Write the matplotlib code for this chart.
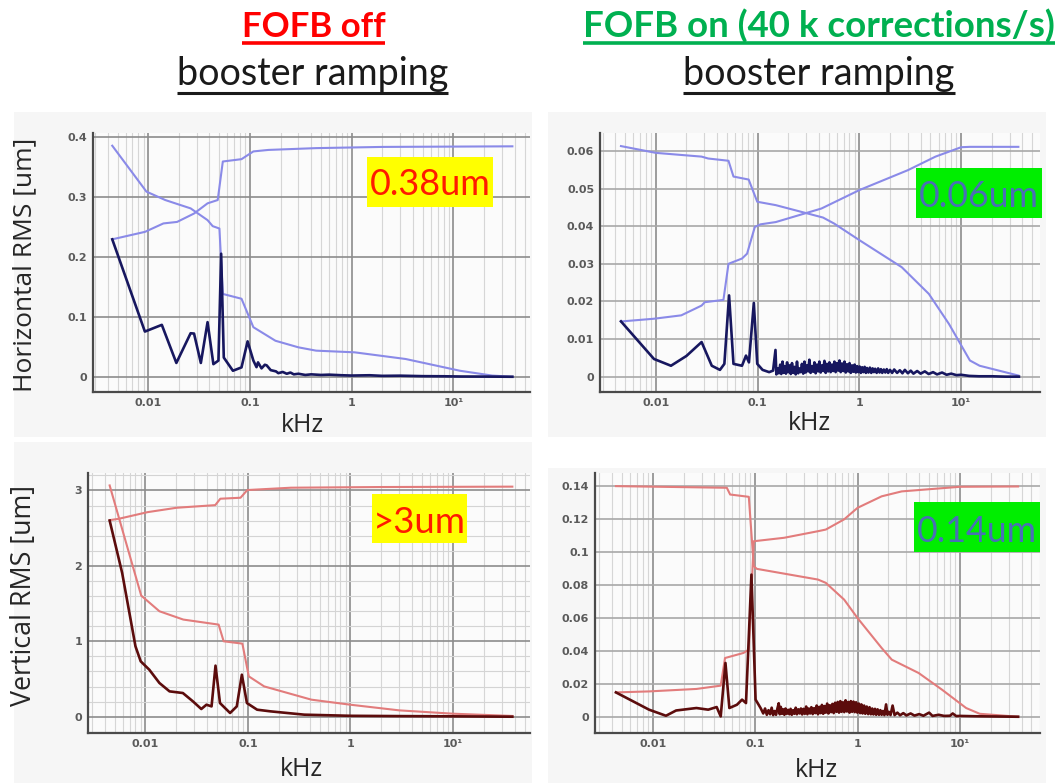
import matplotlib
matplotlib.use('Agg')
import matplotlib.pyplot as plt
import numpy as np
from matplotlib.ticker import FixedLocator, NullFormatter, LogLocator, MultipleLocator
from matplotlib.patches import Rectangle
from matplotlib.lines import Line2D

# ---------------- data (frequency in kHz, RMS in um) ----------------
xtick_vals = [0.01, 0.1, 1, 10]
xtick_labels = ['0.01', '0.1', '1', '10\u00b9']

# Top-left: horizontal, FOFB off
tl_psd = [(0.00443, 0.229), (0.00927, 0.0753), (0.0136, 0.0865), (0.0189, 0.023), (0.0261, 0.0725),
          (0.0282, 0.072), (0.0329, 0.023), (0.0383, 0.091), (0.0437, 0.021), (0.049, 0.027),
          (0.0521, 0.205), (0.0553, 0.032), (0.068, 0.010), (0.0826, 0.0156), (0.0948, 0.059),
          (0.108, 0.027), (0.116, 0.016), (0.12, 0.024), (0.13, 0.014), (0.14, 0.020), (0.146, 0.019),
          (0.16, 0.011), (0.18, 0.009), (0.19, 0.006), (0.21, 0.008), (0.23, 0.005), (0.25, 0.007),
          (0.27, 0.004), (0.3, 0.005), (0.35, 0.003), (0.4, 0.004), (0.5, 0.003), (0.6, 0.0035),
          (0.8, 0.0025), (1.0, 0.002), (1.5, 0.0025), (2, 0.0015), (3, 0.0018), (5, 0.001),
          (8, 0.0008), (12, 0.0004), (20, 0.0003), (38, 0.0)]
tl_up = [(0.00443, 0.229), (0.0093, 0.2415), (0.0141, 0.2555), (0.0192, 0.258), (0.0282, 0.272),
         (0.0383, 0.289), (0.0482, 0.2945), (0.0541, 0.3587), (0.0826, 0.3626), (0.108, 0.3755),
         (0.152, 0.378), (0.447, 0.381), (2, 0.383), (38, 0.384)]
tl_down = [(0.00443, 0.385), (0.0096, 0.3085), (0.0147, 0.2945), (0.0192, 0.288), (0.0261, 0.2806),
           (0.0383, 0.261), (0.043, 0.251), (0.0501, 0.247), (0.0541, 0.138), (0.0826, 0.130),
           (0.108, 0.0826), (0.178, 0.060), (0.3, 0.049), (0.447, 0.0435), (1.07, 0.0407),
           (3.39, 0.0296), (11.6, 0.010), (24, 0.002), (38, 0.0)]

# Top-right: horizontal, FOFB on
tr_psd = [(0.00455, 0.0147), (0.0096, 0.0047), (0.0141, 0.0029), (0.020, 0.0055), (0.0282, 0.0092),
          (0.0355, 0.0029), (0.0427, 0.0018), (0.0472, 0.0034), (0.0525, 0.0216), (0.058, 0.0034),
          (0.0703, 0.0029), (0.077, 0.0056), (0.0823, 0.0038), (0.0919, 0.0196), (0.0993, 0.0034),
          (0.112, 0.0018), (0.130, 0.0012), (0.142, 0.0016), (0.150, 0.0071), (0.153, 0.0006),
          (0.158, 0.0022), (0.162, 0.0009), (0.167, 0.0032), (0.171, 0.0007), (0.176, 0.0040),
          (0.180, 0.0010), (0.185, 0.0028), (0.190, 0.0008), (0.195, 0.0038), (0.200, 0.0012),
          (0.206, 0.0030), (0.212, 0.0007), (0.218, 0.0036), (0.224, 0.0010), (0.230, 0.0026),
          (0.237, 0.0006), (0.244, 0.0040), (0.251, 0.0009), (0.258, 0.0022), (0.265, 0.0012),
          (0.273, 0.0034), (0.281, 0.0008), (0.289, 0.0040), (0.297, 0.0011), (0.305, 0.0030),
          (0.314, 0.0014), (0.323, 0.0045), (0.332, 0.0010), (0.342, 0.0028), (0.352, 0.0013),
          (0.362, 0.0038), (0.372, 0.0009), (0.383, 0.0032), (0.394, 0.0014), (0.405, 0.0040),
          (0.417, 0.0011), (0.429, 0.0030), (0.441, 0.0015), (0.454, 0.0042), (0.467, 0.0010),
          (0.480, 0.0034), (0.494, 0.0014), (0.508, 0.0038), (0.523, 0.0012), (0.538, 0.0032),
          (0.553, 0.0015), (0.569, 0.0040), (0.585, 0.0012), (0.602, 0.0036), (0.620, 0.0016),
          (0.638, 0.0043), (0.656, 0.0012), (0.675, 0.0035), (0.695, 0.0015), (0.715, 0.0040),
          (0.735, 0.0011), (0.757, 0.0033), (0.779, 0.0014), (0.801, 0.0036), (0.824, 0.0010),
          (0.848, 0.0030), (0.873, 0.0013), (0.898, 0.0032), (0.924, 0.0011), (0.951, 0.0028),
          (0.978, 0.0012), (1.006, 0.0027), (1.035, 0.0010), (1.065, 0.0025), (1.096, 0.0012),
          (1.128, 0.0026), (1.16, 0.0010), (1.19, 0.0023), (1.23, 0.0011), (1.27, 0.0024),
          (1.31, 0.0010), (1.35, 0.0022), (1.39, 0.0012), (1.43, 0.0021), (1.48, 0.0010),
          (1.53, 0.0022), (1.58, 0.0011), (1.63, 0.0020), (1.68, 0.0010), (1.74, 0.0019),
          (1.80, 0.0011), (1.86, 0.0020), (1.92, 0.0010), (2.0, 0.0018), (2.1, 0.0010),
          (2.2, 0.0019), (2.35, 0.0010), (2.5, 0.0017), (2.65, 0.0009), (2.8, 0.0018),
          (3.0, 0.0009), (3.2, 0.0016), (3.4, 0.0008), (3.7, 0.0015), (4.0, 0.0008), (4.4, 0.0014),
          (4.8, 0.0007), (5.3, 0.0012), (5.8, 0.0006), (6.5, 0.0011), (7.2, 0.0005), (8, 0.0008),
          (9, 0.0004), (10, 0.0005), (12, 0.0002), (15, 0.0001), (20, 0.0001), (27, 0.0), (37, 0.0)]
tr_up = [(0.00455, 0.01467), (0.0096, 0.0154), (0.0178, 0.0163), (0.0282, 0.0189), (0.0303, 0.0198),
         (0.0462, 0.0204), (0.0518, 0.030), (0.0703, 0.0314), (0.0789, 0.0327), (0.094, 0.0398),
         (0.107, 0.0405), (0.151, 0.0411), (0.424, 0.0447), (1.0, 0.0496), (3.0, 0.0549),
         (5.6, 0.0585), (10, 0.061), (12.2, 0.0611), (36.5, 0.0611)]
tr_down = [(0.00455, 0.0613), (0.01, 0.0595), (0.0282, 0.0585), (0.0327, 0.058), (0.0518, 0.0574),
           (0.058, 0.0532), (0.0818, 0.0524), (0.0993, 0.0465), (0.151, 0.0456), (0.44, 0.0423),
           (0.566, 0.0407), (1.0, 0.0363), (2.61, 0.0291), (4.82, 0.022), (7.6, 0.014),
           (12.2, 0.0043), (15.2, 0.0029), (36.5, 0.0003)]

# Bottom-left: vertical, FOFB off
bl_psd = [(0.00448, 2.60), (0.00593, 1.907), (0.0080, 0.933), (0.0090, 0.734), (0.0109, 0.624),
          (0.0137, 0.447), (0.0172, 0.336), (0.0232, 0.314), (0.0291, 0.203), (0.0351, 0.102),
          (0.0394, 0.159), (0.0442, 0.137), (0.0483, 0.677), (0.0534, 0.181), (0.067, 0.049),
          (0.0779, 0.137), (0.0873, 0.557), (0.0978, 0.181), (0.123, 0.093), (0.166, 0.071),
          (0.355, 0.027), (1.0, 0.012), (3, 0.008), (10, 0.005), (38, 0.0)]
bl_up = [(0.00448, 2.606), (0.0055, 2.624), (0.0105, 2.712), (0.0201, 2.77), (0.048, 2.805),
         (0.0538, 2.89), (0.0847, 2.903), (0.0987, 3.005), (0.263, 3.036), (2, 3.045), (38, 3.05)]
bl_down = [(0.00448, 3.066), (0.0091, 1.606), (0.0137, 1.398), (0.0234, 1.288), (0.0518, 1.221),
           (0.058, 1.0), (0.0883, 0.969), (0.102, 0.535), (0.144, 0.402), (0.416, 0.226),
           (1.0, 0.159), (3, 0.084), (10, 0.04), (38, 0.01)]

# Bottom-right: vertical, FOFB on
br_psd = [(0.00437, 0.0148), (0.0092, 0.0043), (0.01346, 0.0006), (0.0169, 0.0038), (0.0267, 0.0053),
          (0.0348, 0.0043), (0.0421, 0.0059), (0.0461, 0.0002), (0.0513, 0.0327), (0.056, 0.0053),
          (0.0664, 0.0073), (0.0745, 0.0104), (0.0814, 0.0083), (0.092, 0.0864), (0.101, 0.0104),
          (0.113, 0.0053), (0.12, 0.0020), (0.125, 0.0050), (0.13, 0.0012), (0.135, 0.0040),
          (0.14, 0.0015), (0.145, 0.0055), (0.15, 0.0010), (0.155, 0.0035), (0.16, 0.0012),
          (0.165, 0.0050), (0.17, 0.0082), (0.174, 0.0015), (0.178, 0.0060), (0.183, 0.0018),
          (0.188, 0.0045), (0.193, 0.0012), (0.198, 0.0050), (0.204, 0.0018), (0.21, 0.0042),
          (0.216, 0.0015), (0.222, 0.0048), (0.228, 0.0012), (0.235, 0.0040), (0.242, 0.0018),
          (0.249, 0.0055), (0.256, 0.0015), (0.264, 0.0045), (0.272, 0.0020), (0.28, 0.0050),
          (0.288, 0.0014), (0.297, 0.0048), (0.306, 0.0018), (0.315, 0.0062), (0.324, 0.0015),
          (0.334, 0.0050), (0.344, 0.0020), (0.354, 0.0058), (0.365, 0.0016), (0.376, 0.0052),
          (0.387, 0.0022), (0.399, 0.0068), (0.411, 0.0015), (0.423, 0.0060), (0.436, 0.0022),
          (0.449, 0.0072), (0.462, 0.0018), (0.476, 0.0065), (0.49, 0.0025), (0.505, 0.0080),
          (0.52, 0.0020), (0.536, 0.0070), (0.552, 0.0028), (0.568, 0.0078), (0.585, 0.0022),
          (0.603, 0.0085), (0.621, 0.0030), (0.64, 0.0090), (0.659, 0.0025), (0.679, 0.0095),
          (0.699, 0.0030), (0.72, 0.0088), (0.742, 0.0028), (0.764, 0.0100), (0.787, 0.0032),
          (0.81, 0.0090), (0.835, 0.0025), (0.86, 0.0095), (0.885, 0.0030), (0.912, 0.0092),
          (0.939, 0.0028), (0.967, 0.0088), (0.996, 0.0025), (1.03, 0.0080), (1.06, 0.0022),
          (1.09, 0.0075), (1.12, 0.0020), (1.16, 0.0068), (1.19, 0.0018), (1.23, 0.0062),
          (1.27, 0.0016), (1.31, 0.0058), (1.35, 0.0015), (1.39, 0.0050), (1.43, 0.0014),
          (1.48, 0.0048), (1.52, 0.0012), (1.57, 0.0045), (1.62, 0.0012), (1.67, 0.0040),
          (1.72, 0.0012), (1.77, 0.0035), (1.83, 0.0010), (1.9, 0.0075), (1.96, 0.0012),
          (2.02, 0.0030), (2.1, 0.0010), (2.2, 0.0068), (2.3, 0.0010), (2.45, 0.0025),
          (2.6, 0.0009), (2.8, 0.0022), (3.0, 0.0008), (3.3, 0.0020), (3.6, 0.0007), (4.0, 0.0016),
          (4.4, 0.0006), (5.0, 0.0025), (5.4, 0.0005), (6.2, 0.0012), (7, 0.0005), (8, 0.0006),
          (8.5, 0.0020), (9.2, 0.0004), (10, 0.0005), (14, 0.0003), (20, 0.0002), (37, 0.0)]
br_up = [(0.00437, 0.0148), (0.0092, 0.0154), (0.0267, 0.0169), (0.0461, 0.0189), (0.0508, 0.0357),
         (0.077, 0.0388), (0.0867, 0.0408), (0.097, 0.1067), (0.192, 0.1088), (0.411, 0.1128),
         (0.49, 0.1138), (0.74, 0.12), (1.0, 0.127), (1.72, 0.134), (2.7, 0.137), (10, 0.1398),
         (37, 0.14)]
br_down = [(0.00437, 0.1402), (0.0529, 0.1392), (0.057, 0.1351), (0.0867, 0.1337), (0.097, 0.0915),
           (0.104, 0.0899), (0.411, 0.0834), (0.49, 0.0814), (0.74, 0.0712), (1.0, 0.060),
           (1.72, 0.0418), (2.16, 0.0347), (3.95, 0.0266), (6.7, 0.0164), (11.5, 0.0053),
           (15.6, 0.0018), (37, 0.0)]

tl_yticks = [0, 0.1, 0.2, 0.3, 0.4]
tl_ylabels = ['0', '0.1', '0.2', '0.3', '0.4']
tr_yticks = [0, 0.01, 0.02, 0.03, 0.04, 0.05, 0.06]
tr_ylabels = ['0', '0.01', '0.02', '0.03', '0.04', '0.05', '0.06']
bl_yticks = [0, 1, 2, 3]
bl_ylabels = ['0', '1', '2', '3']
br_yticks = [0, 0.02, 0.04, 0.06, 0.08, 0.1, 0.12, 0.14]
br_ylabels = ['0', '0.02', '0.04', '0.06', '0.08', '0.1', '0.12', '0.14']

title_off = 'FOFB off'
title_on = 'FOFB on (40 k corrections/s)'
subtitle = 'booster ramping'
ylabel_h = 'Horizontal RMS [um]'
ylabel_v = 'Vertical RMS [um]'
xlabel = 'kHz'
badges = ['0.38um', '0.06um', '>3um', '0.14um']

# ---------------- figure ----------------
W, H = 1060, 783
DPI = 100
fig = plt.figure(figsize=(W / DPI, H / DPI), dpi=DPI)
fig.patch.set_facecolor('white')
renderer = fig.canvas.get_renderer()


def fx(px):
    return px / W


def fy(py):
    return 1 - py / H


# light grey panel backgrounds (behind the axes)
for (x0, y0, x1, y1) in [(14, 112, 532, 437), (548, 112, 1046, 437),
                         (14, 442, 532, 783), (548, 468, 1046, 783)]:
    fig.patches.append(Rectangle((fx(x0), fy(y1)), (x1 - x0) / W, (y1 - y0) / H,
                                 transform=fig.transFigure, facecolor='#f6f6f6',
                                 edgecolor='none', zorder=-5))

NAVY, LBLUE = '#17175f', '#8a8ae8'
MAROON, LRED = '#5c0c0c', '#e27c7c'

panels = [
    dict(box=(93, 133.3, 530, 391.7), xl=(-2.543, 1.753), yl=(-0.0249, 0.4057),
         yt=tl_yticks, ytl=tl_ylabels, data=(tl_psd, tl_up, tl_down), c=(NAVY, LBLUE),
         ygrid='#8c8c8c', yminor=None),
    dict(box=(600, 133.3, 1040, 391.7), xl=(-2.548, 1.775), yl=(-0.0040, 0.0647),
         yt=tr_yticks, ytl=tr_ylabels, data=(tr_psd, tr_up, tr_down), c=(NAVY, LBLUE),
         ygrid='#a8a8a8', yminor=None),
    dict(box=(88, 473.3, 530, 732.7), xl=(-2.56, 1.752), yl=(-0.212, 3.227),
         yt=bl_yticks, ytl=bl_ylabels, data=(bl_psd, bl_up, bl_down), c=(MAROON, LRED),
         ygrid='#8c8c8c', yminor=0.2),
    dict(box=(595, 473.3, 1040, 732.7), xl=(-2.564, 1.782), yl=(-0.0097, 0.148),
         yt=br_yticks, ytl=br_ylabels, data=(br_psd, br_up, br_down), c=(MAROON, LRED),
         ygrid='#a8a8a8', yminor=None),
]

for p in panels:
    l, t, r, b = p['box']
    ax = fig.add_axes([fx(l), fy(b), (r - l) / W, (b - t) / H])
    ax.set_zorder(1)
    ax.set_facecolor('#fbfbfb')
    ax.set_xscale('log')
    ax.set_xlim(10 ** p['xl'][0], 10 ** p['xl'][1])
    ax.set_ylim(*p['yl'])
    psd, up, down = p['data']
    dark, light = p['c']
    for series, col, lw, z in [(up, light, 1.5, 3), (down, light, 1.5, 3), (psd, dark, 1.9, 4)]:
        f = [s[0] for s in series]
        v = [s[1] for s in series]
        ax.plot(f, v, color=col, lw=lw, zorder=z, solid_joinstyle='round')
    ax.xaxis.set_major_locator(FixedLocator(xtick_vals))
    ax.set_xticklabels(xtick_labels)
    ax.xaxis.set_minor_locator(LogLocator(base=10, subs=np.arange(2, 10)))
    ax.xaxis.set_minor_formatter(NullFormatter())
    ax.yaxis.set_major_locator(FixedLocator(p['yt']))
    ax.set_yticklabels(p['ytl'])
    if p['yminor']:
        ax.yaxis.set_minor_locator(MultipleLocator(p['yminor']))
        ax.grid(True, which='minor', axis='y', color='#d4d4d4', lw=0.8, zorder=1)
    ax.grid(True, which='major', axis='x', color='#8c8c8c', lw=1.2, zorder=1)
    ax.grid(True, which='minor', axis='x', color='#d6d6d6', lw=0.8, zorder=1)
    ax.grid(True, which='major', axis='y', color=p['ygrid'], lw=1.2, zorder=1)
    ax.set_axisbelow(True)
    for s in ['top', 'right']:
        ax.spines[s].set_visible(False)
    for s in ['left', 'bottom']:
        ax.spines[s].set_color('#4a4a4a')
        ax.spines[s].set_linewidth(1.6)
    ax.tick_params(which='both', length=0, pad=4.2, labelsize=8, labelcolor='#5a5a5a')
    for lab in ax.get_xticklabels() + ax.get_yticklabels():
        lab.set_fontweight('bold')


def fit_text(txt, target, vertical=False):
    bb = txt.get_window_extent(renderer)
    size = bb.height if vertical else bb.width
    txt.set_fontsize(txt.get_fontsize() * target / size)
    return txt.get_window_extent(renderer)


def underline(bb, py, lw, color):
    fig.add_artist(Line2D([bb.x0 / W, bb.x1 / W], [fy(py), fy(py)], transform=fig.transFigure,
                          color=color, lw=lw, solid_capstyle='butt'))


# titles
t1 = fig.text(fx(313.6), fy(37), title_off, ha='center', va='baseline', color='#ff0000',
              fontsize=24, fontweight='bold', family='Lato')
bb = fit_text(t1, 143.7)
underline(bb, 43, 2.6, '#ff0000')
t2 = fig.text(fx(819), fy(37), title_on, ha='center', va='baseline', color='#00b050',
              fontsize=24, fontweight='bold', family='Lato')
bb = fit_text(t2, 473)
underline(bb, 43, 2.6, '#00b050')
for cx in (312.7, 819):
    s = fig.text(fx(cx), fy(85), subtitle, ha='center', va='baseline', color='#1a1a1a',
                 fontsize=24, family='Lato')
    bb = fit_text(s, 272)
    underline(bb, 93, 2.2, '#1a1a1a')

# y labels
for lab, cy, length in [(ylabel_h, 265, 253), (ylabel_v, 595.8, 221.7)]:
    t = fig.text(fx(24.5), fy(cy), lab, rotation=90, ha='center', va='center',
                 color='#262626', fontsize=15, family='Open Sans')
    fit_text(t, length, vertical=True)

# x labels
for cx, by in [(302.6, 431.5), (809.8, 430), (301.7, 776.5), (816.5, 777)]:
    t = fig.text(fx(cx), fy(by), xlabel, ha='center', va='baseline', color='#262626',
                 fontsize=16, family='Open Sans')
    fit_text(t, 43)

# value badges
badge_specs = [
    (badges[0], (366.7, 156.7, 493.3, 206.7), 195, 121, '#ffff00', '#ff1a00'),
    (badges[1], (916.4, 168.3, 1042.2, 218.3), 207.3, 120, '#00ee00', '#4a6fb5'),
    (badges[2], (371.9, 494, 466.5, 543.3), 533.3, 93, '#ffff00', '#ff1a00'),
    (badges[3], (914, 502.3, 1040, 551.7), 541.7, 120, '#00ee00', '#4a6fb5'),
]
for text, (x0, y0, x1, y1), base, tw, bg, fg in badge_specs:
    fig.patches.append(Rectangle((fx(x0), fy(y1)), (x1 - x0) / W, (y1 - y0) / H,
                                 transform=fig.transFigure, facecolor=bg, edgecolor='none',
                                 zorder=5))
    t = fig.text(fx((x0 + x1) / 2), fy(base), text, ha='center', va='baseline', color=fg,
                 fontsize=24, family='Lato', zorder=6)
    fit_text(t, tw)

fig.savefig('out.png', dpi=DPI, facecolor='white')
